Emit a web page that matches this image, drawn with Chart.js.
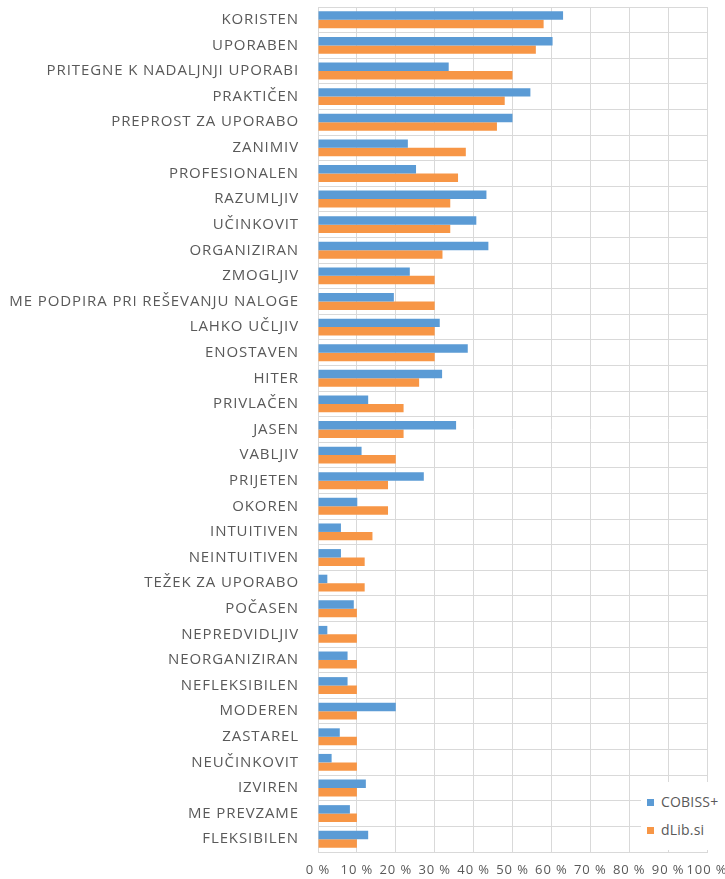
<!DOCTYPE html>
<html>
<head>
<meta charset="utf-8">
<script src="https://cdn.jsdelivr.net/npm/chart.js@4"></script>
<style>
  html, body { margin: 0; padding: 0; background: #fff; }
  #wrap { position: relative; width: 725px; height: 879px; }
  #legend {
    position: absolute; left: 641px; top: 782px; width: 84px; height: 68px;
    background: #fff; font-family: "Open Sans", sans-serif; font-size: 14px;
    color: #595959; letter-spacing: 0.2px; white-space: nowrap;
  }
  #legend div { position: absolute; left: 6px; height: 20px; line-height: 20px; }
  #legend span { display: inline-block; width: 7px; height: 7px; margin-right: 7px; vertical-align: middle; position: relative; top: -1px; }
</style>
</head>
<body>
<div id="wrap">
  <canvas id="myChart" width="725" height="879"></canvas>
  <div id="legend">
    <div style="top:10px"><span style="background:#5B9BD5"></span>COBISS+</div>
    <div style="top:38px"><span style="background:#F79646"></span>dLib.si</div>
  </div>
</div>
<script>
const categories = [
  "KORISTEN", "UPORABEN", "PRITEGNE K NADALJNJI UPORABI", "PRAKTIČEN",
  "PREPROST ZA UPORABO", "ZANIMIV", "PROFESIONALEN", "RAZUMLJIV",
  "UČINKOVIT", "ORGANIZIRAN", "ZMOGLJIV", "ME PODPIRA PRI REŠEVANJU NALOGE",
  "LAHKO UČLJIV", "ENOSTAVEN", "HITER", "PRIVLAČEN", "JASEN", "VABLJIV",
  "PRIJETEN", "OKOREN", "INTUITIVEN", "NEINTUITIVEN", "TEŽEK ZA UPORABO",
  "POČASEN", "NEPREDVIDLJIV", "NEORGANIZIRAN", "NEFLEKSIBILEN", "MODEREN",
  "ZASTAREL", "NEUČINKOVIT", "IZVIREN", "ME PREVZAME", "FLEKSIBILEN"
];

const cobiss = [
  63, 60.3, 33.6, 54.6, 50, 23.1, 25.2, 43.3, 40.7, 43.8, 23.6, 19.5,
  31.3, 38.5, 31.9, 12.9, 35.5, 11.2, 27.2, 10.1, 5.9, 5.9, 2.4, 9.2,
  2.4, 7.6, 7.6, 20, 5.6, 3.5, 12.3, 8.2, 12.9
];

const dlib = [
  58, 56, 50, 48, 46, 38, 36, 34, 34, 32, 30, 30,
  30, 30, 26, 22, 22, 20, 18, 18, 14, 12, 12, 10,
  10, 10, 10, 10, 10, 10, 10, 10, 10
];

const xTicks = [0, 10, 20, 30, 40, 50, 60, 70, 80, 90, 100];

const spacing = {
  id: "spacing",
  beforeLayout(chart) { chart.ctx.letterSpacing = "0.9px"; },
  beforeDraw(chart) { chart.ctx.letterSpacing = "0.9px"; }
};

const ctx = document.getElementById("myChart").getContext("2d");
new Chart(ctx, {
  type: "bar",
  plugins: [spacing],
  data: {
    labels: categories,
    datasets: [
      { label: "COBISS+", data: cobiss, backgroundColor: "#5B9BD5" },
      { label: "dLib.si", data: dlib, backgroundColor: "#F79646" }
    ]
  },
  options: {
    indexAxis: "y",
    responsive: false,
    animation: false,
    categoryPercentage: 0.66,
    barPercentage: 1.0,
    layout: { padding: { top: 7, right: 18, left: 0, bottom: 0 } },
    plugins: { legend: { display: false }, tooltip: { enabled: false } },
    scales: {
      x: {
        min: 0, max: 100,
        afterBuildTicks: (s) => { s.ticks = xTicks.map(v => ({ value: v })); },
        grid: { color: "#d9d9d9", drawTicks: false },
        border: { color: "#d9d9d9" },
        ticks: {
          padding: 10,
          color: "#595959",
          autoSkip: false,
          maxRotation: 0,
          minRotation: 0,
          font: { family: "Open Sans", size: 13 },
          callback: (v) => v + " %"
        },
        afterFit: (s) => { s.height = 27; s.paddingLeft = 0; s.paddingRight = 0; }
      },
      y: {
        grid: { color: "#d9d9d9", drawTicks: false, offset: true },
        border: { color: "#d9d9d9" },
        ticks: {
          padding: 19,
          color: "#595959",
          autoSkip: false,
          font: { family: "Open Sans", size: 15 }
        },
        afterFit: (s) => { s.width = 318; s.paddingTop = 0; s.paddingBottom = 0; }
      }
    }
  }
});
</script>
</body>
</html>
